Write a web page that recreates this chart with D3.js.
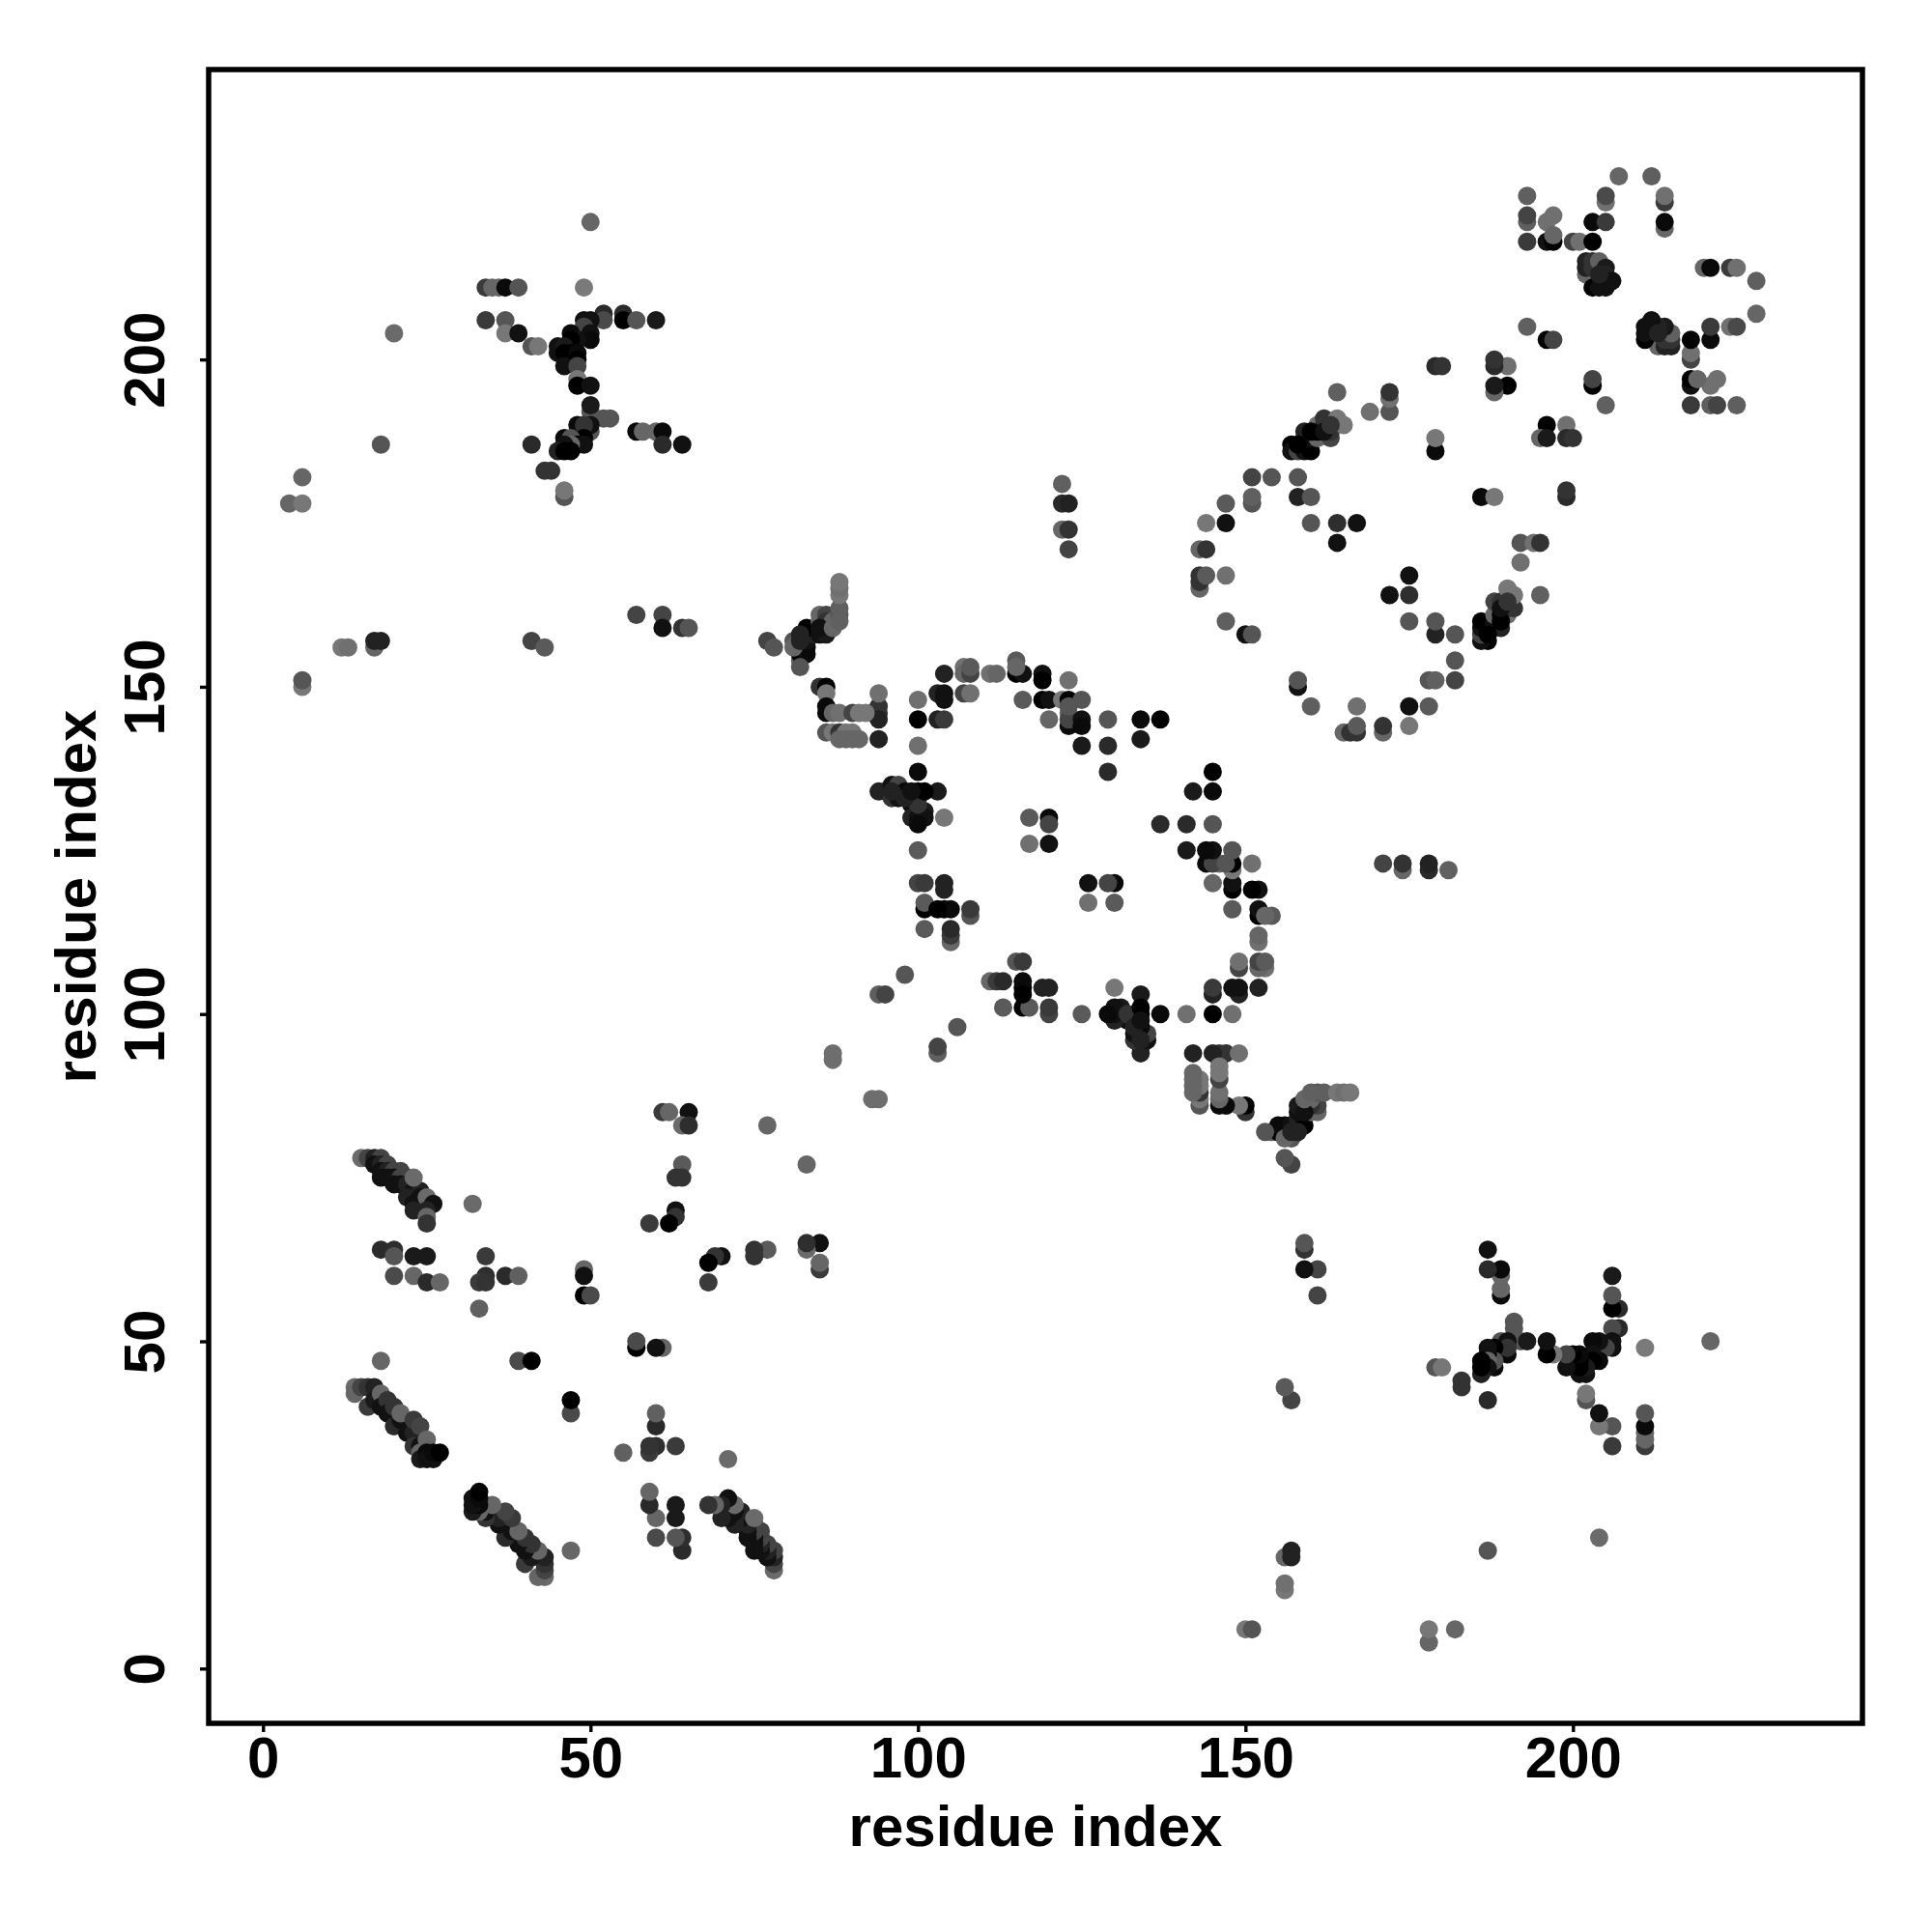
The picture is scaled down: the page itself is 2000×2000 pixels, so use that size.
<!DOCTYPE html>
<html><head><meta charset="utf-8">
<script src="https://cdn.jsdelivr.net/npm/d3@7"></script>
<style>html,body{margin:0;padding:0;background:#fff}svg{display:block}</style>
</head><body><div id="chart"></div>
<script>
// Each entry: [residue i, residue j, grey level 0-255]. The map is symmetric about the diagonal.
const sheetA = [[15,78,0x6a],[16,78,0x44],[17,78,0x22],[18,78,0x44],[17,77,0x11],[18,77,0x22],[19,77,0x44],[18,76,0x11],[19,76,0x22],[20,76,0x44],[21,76,0x44],[18,75,0x11],[19,75,0x11],[20,75,0x11],[21,75,0x44],[22,75,0x44],[20,74,0x11],[21,74,0x11],[22,74,0x22],[23,73,0x11],[24,73,0x22],[22,72,0x22],[24,72,0x11],[23,71,0x11],[24,71,0x11],[23,70,0x22],[25,72,0x6a],[26,71,0x11],[25,70,0x22],[25,69,0x66],[25,68,0x33],[23,75,0x6a]];
const sheetB = [[14,43,0x6a],[14,42,0x66],[15,43,0x44],[16,43,0x33],[17,43,0x22],[16,40,0x3a],[17,41,0x1a],[18,42,0x66],[18,40,0x11],[19,41,0x33],[19,39,0x11],[20,40,0x33],[20,37,0x2a],[21,38,0x11],[21,39,0x66],[22,36,0x11],[23,36,0x22],[23,38,0x3a],[24,37,0x44],[23,34,0x33],[24,34,0x11],[24,33,0x66],[25,35,0x66],[24,32,0x1a],[25,33,0x0a],[25,32,0x11],[26,32,0x11],[26,33,0x0a],[27,33,0x00]];
const loopLeft = [[18,64,0x2a],[20,64,0x2e],[20,63,0x55],[23,63,0x1a],[25,63,0x1a],[20,60,0x4a],[23,60,0x66],[25,59,0x2a],[27,59,0x66],[34,63,0x3a],[34,60,0x2e],[33,59,0x3a],[34,59,0x33],[37,60,0x2a],[39,60,0x60],[33,55,0x60],[32,71,0x6a],[18,47,0x66],[39,47,0x4a],[41,47,0x00]];
const loopMid = [[49,61,0x66],[49,60,0x11],[49,57,0x00],[50,57,0x4a],[64,77,0x5a],[64,75,0x33],[63,75,0x33],[63,70,0x11],[63,69,0x33],[62,68,0x00],[59,68,0x3a],[61,85,0x3a],[62,85,0x66],[65,85,0x11],[64,83,0x6a],[65,83,0x2e],[77,83,0x66],[87,93,0x6e],[87,94,0x6e]];
const farLeft = [[4,178,0x66],[6,178,0x77],[6,182,0x66],[6,150,0x77],[6,151,0x55],[12,156,0x77],[13,156,0x70],[17,156,0x66],[17,157,0x22],[18,157,0x22],[41,157,0x44],[43,156,0x5a],[57,161,0x44],[61,161,0x44],[61,159,0x11],[64,159,0x33],[65,159,0x55],[18,187,0x55],[20,204,0x6a],[50,221,0x66],[49,211,0x7a],[34,211,0x3a],[35,211,0x66],[36,211,0x66],[37,211,0x0a],[39,211,0x55],[34,206,0x3a],[37,206,0x55],[37,204,0x77],[39,204,0x11],[41,202,0x55],[42,202,0x77]];
const starTop = [[52,207,0x2a],[52,206,0x4a],[55,207,0x2a],[55,206,0x00],[57,206,0x55],[60,206,0x1a],[49,206,0x11],[50,206,0x11],[49,205,0x44],[50,204,0x11],[50,203,0x0a],[47,204,0x0a],[48,203,0x11],[47,203,0x00],[45,202,0x11],[45,201,0x11],[46,202,0x1a],[46,201,0x00],[47,201,0x00],[48,201,0x0a],[48,200,0x00],[46,199,0x11],[48,199,0x44],[48,197,0x77],[48,196,0x00],[50,196,0x11]];
const starBottom = [[50,192,0x55],[50,193,0x1a],[52,191,0x55],[53,191,0x55],[50,189,0x55],[50,190,0x11],[48,190,0x0a],[49,190,0x33],[49,188,0x00],[46,188,0x0a],[47,188,0x55],[48,187,0x00],[49,187,0x11],[47,187,0x66],[46,187,0x11],[45,186,0x22],[46,186,0x00],[47,186,0x00],[41,187,0x2a],[43,183,0x33],[44,183,0x33],[46,179,0x55],[46,180,0x77],[57,189,0x0a],[58,189,0x66],[60,189,0x66],[61,189,0x0a],[61,187,0x2a],[64,187,0x11]];
const helixTurn = [[77,157,0x5a],[78,156,0x5a],[81,157,0x66],[82,154,0x60],[82,155,0x00],[83,155,0x11],[82,156,0x11],[83,156,0x2a],[83,157,0x1a],[84,158,0x1a],[83,159,0x0a],[85,158,0x11],[86,158,0x1a],[85,161,0x66],[85,160,0x2a],[86,161,0x44],[86,160,0x11],[87,160,0x66],[88,161,0x55],[88,162,0x66],[88,164,0x77],[88,165,0x66],[88,166,0x77]];
const rowMid = [[85,150,0x44],[86,150,0x00],[86,149,0x66],[86,147,0x0a],[86,146,0x00],[87,146,0x4a],[88,146,0x66],[90,146,0x44],[91,146,0x70],[93,146,0x70],[94,146,0x2a],[94,147,0x33],[94,145,0x22],[94,149,0x66],[86,143,0x55],[87,143,0x70],[88,143,0x44],[89,143,0x70],[90,143,0x70],[88,142,0x66],[89,142,0x66],[90,142,0x66],[91,142,0x55],[94,142,0x2a]];
const arcTop = [[100,148,0x77],[100,145,0x0a],[103,145,0x22],[104,145,0x3a],[100,141,0x77],[100,137,0x11],[103,149,0x1a],[104,149,0x0a],[104,148,0x11],[104,152,0x22],[107,153,0x77],[107,152,0x77],[108,152,0x3a],[108,153,0x55],[107,149,0x44],[108,149,0x77],[111,152,0x70],[112,152,0x70],[115,152,0x11],[115,154,0x66],[116,152,0x11],[119,152,0x0a],[119,151,0x11],[116,148,0x55],[119,148,0x0a],[120,148,0x11],[120,145,0x66],[123,151,0x77],[122,148,0x66],[123,148,0x00],[125,148,0x55],[123,146,0x66],[123,144,0x00],[123,145,0x44],[125,145,0x11],[125,144,0x0a],[125,141,0x22],[129,145,0x55],[129,141,0x2e],[129,137,0x2e],[134,145,0x0a],[137,145,0x0a],[134,142,0x1a]];
const knot = [[94,134,0x11],[95,134,0x22],[96,135,0x11],[97,135,0x33],[96,133,0x22],[97,133,0x11],[98,134,0x0a],[100,133,0x33],[100,134,0x00],[103,134,0x1a],[99,132,0x11],[100,131,0x22],[101,131,0x0a],[99,130,0x11],[100,130,0x11],[101,130,0x0a],[100,129,0x0a],[104,130,0x77],[100,125,0x66],[117,130,0x5a],[120,130,0x0a],[120,129,0x2a],[117,126,0x70],[120,126,0x11]];
const arcRight = [[129,137,0x2a],[129,141,0x2a],[129,145,0x55],[137,145,0x00],[134,142,0x1a],[134,145,0x0a],[125,141,0x1a],[125,144,0x0a],[125,145,0x11],[125,148,0x55],[123,144,0x0a],[123,145,0x44],[123,147,0x55],[122,148,0x77],[123,148,0x00],[123,151,0x70],[120,145,0x66],[120,148,0x11],[119,148,0x00],[119,151,0x00],[119,152,0x11],[116,148,0x5a],[116,152,0x11],[115,152,0x00],[115,153,0x66],[115,154,0x5a],[112,152,0x66],[111,152,0x70],[107,149,0x44],[108,149,0x70],[107,152,0x66],[108,152,0x44],[107,153,0x70],[108,153,0x5a],[104,145,0x3a],[103,145,0x22],[104,148,0x11],[103,149,0x22],[104,149,0x11],[104,152,0x22],[100,145,0x00],[100,141,0x70],[100,148,0x70]];
const centre = [[100,120,0x55],[101,120,0x33],[104,119,0x22],[104,120,0x22],[101,116,0x00],[101,117,0x55],[104,116,0x00],[105,116,0x00],[108,115,0x55],[108,116,0x3a],[101,113,0x55],[105,111,0x66],[105,112,0x33],[105,113,0x22],[126,120,0x11],[129,120,0x44],[130,120,0x0a],[126,117,0x70],[130,117,0x5a],[98,106,0x55],[94,103,0x5f],[95,103,0x44]];
const loopBase = [[108,115,0x55],[108,116,0x3a],[105,111,0x66],[105,112,0x3a],[105,113,0x2a],[103,116,0x00],[105,116,0x0a],[104,116,0x00],[104,119,0x22],[104,120,0x22],[101,113,0x5a],[101,116,0x00],[101,117,0x5a],[100,120,0x44],[101,120,0x3a],[100,125,0x5a],[104,130,0x77],[103,134,0x1a],[100,137,0x0a],[100,129,0x0a],[101,130,0x11],[100,130,0x11],[101,131,0x1a],[99,130,0x22],[100,132,0x33],[100,133,0x0a],[101,134,0x00],[100,134,0x00],[98,133,0x22],[99,134,0x11],[96,133,0x33],[94,134,0x22],[96,134,0x22],[96,135,0x11],[97,135,0x44]];
const footRight = [[94,142,0x22],[94,145,0x22],[94,146,0x33],[94,149,0x70],[91,142,0x66],[90,142,0x66],[89,142,0x66],[88,142,0x66],[86,143,0x55],[87,143,0x77],[88,143,0x33],[89,143,0x77],[90,143,0x77],[92,146,0x77],[91,146,0x77],[90,146,0x44],[88,146,0x70],[87,146,0x66],[86,146,0x0a],[86,147,0x0a],[86,149,0x77],[85,150,0x33],[86,150,0x00],[78,156,0x55],[77,157,0x44],[82,153,0x55],[81,156,0x66],[81,157,0x55],[83,155,0x0a],[82,155,0x00],[83,156,0x0a],[82,157,0x22],[83,157,0x11],[82,158,0x22],[84,158,0x22],[86,158,0x1a],[83,159,0x00],[85,159,0x11],[87,159,0x66],[88,160,0x60],[85,160,0x66],[86,160,0x33],[85,161,0x66],[86,161,0x44],[88,161,0x55],[88,162,0x5f],[88,164,0x77],[88,165,0x70],[88,166,0x77]];
const middleBar = [[122,181,0x60],[122,178,0x2a],[123,178,0x22],[122,174,0x66],[123,174,0x33],[123,171,0x44]];
const ringTop = [[172,192,0x5a],[172,194,0x70],[172,195,0x3a],[169,192,0x70],[164,195,0x66],[157,187,0x00],[157,186,0x22],[158,186,0x11],[159,186,0x11],[160,186,0x00],[159,188,0x0a],[159,189,0x2a],[160,188,0x11],[161,188,0x44],[161,189,0x00],[161,190,0x66],[162,190,0x22],[162,191,0x33],[163,188,0x4a],[163,189,0x44],[164,191,0x77],[165,190,0x70]];
const ringLeft = [[151,182,0x44],[154,182,0x55],[158,182,0x55],[158,179,0x22],[160,179,0x55],[151,178,0x55],[151,179,0x60],[147,178,0x55],[147,175,0x1a],[144,175,0x70],[160,175,0x55],[164,175,0x2a],[167,175,0x11],[164,172,0x11],[143,171,0x66],[144,171,0x3a],[143,165,0x60],[143,166,0x33],[143,167,0x33],[144,167,0x5a],[147,167,0x70],[147,160,0x60],[150,158,0x11],[151,158,0x55]];
const ringBottom = [[150,158,0x11],[151,158,0x55],[147,160,0x5f],[147,167,0x70],[143,165,0x66],[143,166,0x33],[143,167,0x33],[144,167,0x5a],[143,171,0x66],[144,171,0x33],[147,175,0x11],[147,178,0x5a],[144,175,0x77],[151,178,0x55],[151,179,0x60],[151,182,0x44],[154,182,0x55],[158,182,0x55],[158,179,0x22],[160,179,0x55],[160,175,0x55],[164,172,0x11],[164,175,0x2e],[167,175,0x11]];
const ringRight = [[179,186,0x11],[179,188,0x77],[179,186,0x0a],[179,188,0x77],[179,199,0x2a],[180,199,0x33],[172,192,0x55],[172,194,0x70],[172,195,0x33],[169,192,0x70],[164,195,0x60],[157,186,0x11],[158,186,0x44],[159,186,0x11],[160,186,0x00],[157,187,0x00],[158,187,0x00],[159,188,0x66],[161,188,0x66],[163,188,0x44],[159,189,0x22],[160,189,0x00],[162,189,0x11],[163,189,0x33],[161,190,0x70],[163,190,0x33],[162,191,0x33],[165,190,0x77],[164,191,0x77],[190,196,0x00],[190,199,0x70],[188,195,0x66],[188,196,0x1a],[188,199,0x2a],[188,200,0x33]];
const crossTop = [[207,228,0x70],[212,228,0x5f],[193,225,0x60],[205,224,0x70],[205,225,0x4a],[214,224,0x33],[214,225,0x77],[193,221,0x66],[193,222,0x4a],[197,222,0x70],[196,221,0x70],[203,221,0x00],[205,221,0x3a],[214,220,0x55],[214,221,0x11],[193,218,0x44],[196,218,0x22],[197,218,0x11],[197,219,0x70],[200,218,0x60],[201,218,0x77],[203,218,0x00],[202,213,0x66],[202,214,0x11],[202,215,0x22],[203,214,0x22],[203,215,0x44],[204,215,0x66],[205,214,0x1a],[205,213,0x11],[204,212,0x11],[203,211,0x00],[204,211,0x00],[205,211,0x00],[206,212,0x0a],[214,220,0x66],[214,221,0x0a],[214,224,0x3a],[214,225,0x70],[212,228,0x5f]];
const crossRight = [[207,228,0x66],[205,221,0x3a],[205,224,0x70],[205,225,0x4a],[203,221,0x0a],[203,218,0x00],[193,205,0x66],[196,203,0x00],[197,203,0x44],[205,211,0x11],[204,211,0x11],[206,212,0x11],[204,212,0x66],[205,213,0x22],[204,213,0x22],[205,214,0x1a],[204,215,0x60],[202,213,0x66],[202,214,0x22],[202,215,0x22],[203,214,0x33],[203,215,0x33],[200,218,0x44],[201,218,0x70],[197,218,0x00],[196,218,0x11],[197,219,0x66],[196,221,0x70],[197,222,0x70],[193,218,0x3a],[193,221,0x5f],[193,222,0x44],[193,225,0x5f],[188,200,0x33],[188,199,0x2a],[190,199,0x70],[188,195,0x66],[188,196,0x1a],[190,196,0x00],[196,203,0x00],[197,203,0x44],[193,205,0x60]];
const xTickLabels = [0, 50, 100, 150, 200];
const yTickLabels = [0, 50, 100, 150, 200];
const axisTitle = "residue index";

const contacts = [sheetB, sheetA, loopLeft, loopMid, farLeft, starTop, starBottom, helixTurn, rowMid, arcTop, knot, arcRight, centre, loopBase, footRight, middleBar, ringTop, ringLeft, ringBottom, ringRight, crossTop, crossRight].flat();

const width = 2000, height = 2000;
const x = d3.scaleLinear().domain([-8.3, 244.2]).range([216, 1928]);
const y = d3.scaleLinear().domain([-8.37, 244.3]).range([1784, 72]);
const shade = d3.scaleLinear().domain([0, 255]).range(["#000000", "#ffffff"]);
const font = '"Liberation Sans", Arial, Helvetica, sans-serif';

const svg = d3.select("#chart").append("svg").attr("width", width).attr("height", height);
svg.append("rect").attr("width", width).attr("height", height).attr("fill", "#fff");

// every contact is drawn at (i,j) and at its mirror (j,i); repeats of a pair collapse to one
const unique = d3.rollups(contacts, v => v[v.length - 1], d => Math.min(d[0], d[1]) + "-" + Math.max(d[0], d[1])).map(e => e[1]);
const pts = unique.flatMap(d => [d, [d[1], d[0], d[2]]]);
svg.append("g").selectAll("circle").data(pts).join("circle")
  .attr("cx", d => x(d[0])).attr("cy", d => y(d[1])).attr("r", 9.5)
  .attr("fill", d => shade(d[2]));

const xAxis = d3.axisBottom(x).tickValues(xTickLabels).tickSize(9).tickPadding(4.5).tickFormat(d3.format("d"));
const gx = svg.append("g").attr("transform", "translate(0,1784)").call(xAxis);
const yAxis = d3.axisLeft(y).tickValues(yTickLabels).tickSize(9).tickFormat(d3.format("d"));
const gy = svg.append("g").attr("transform", "translate(216,0)").call(yAxis);
gy.selectAll("text").attr("x", null).attr("dy", null).attr("text-anchor", "middle").attr("transform", "translate(-46,0) rotate(-90)");
[gx, gy].forEach(g => {
  g.select(".domain").remove();
  g.selectAll("line").attr("stroke", "#000").attr("stroke-width", 3.4);
  g.selectAll("text").attr("font-family", font).attr("font-weight", "bold").attr("font-size", 60).attr("fill", "#000");
});
svg.append("rect").attr("x", 216).attr("y", 72).attr("width", 1712).attr("height", 1712)
  .attr("fill", "none").attr("stroke", "#000").attr("stroke-width", 5.5);
svg.append("text").attr("x", 1072).attr("y", 1911).attr("text-anchor", "middle")
  .attr("font-family", font).attr("font-weight", "bold").attr("font-size", 60).text(axisTitle);
svg.append("text").attr("transform", "translate(99,928) rotate(-90)").attr("text-anchor", "middle")
  .attr("font-family", font).attr("font-weight", "bold").attr("font-size", 60).text(axisTitle);
</script></body></html>
